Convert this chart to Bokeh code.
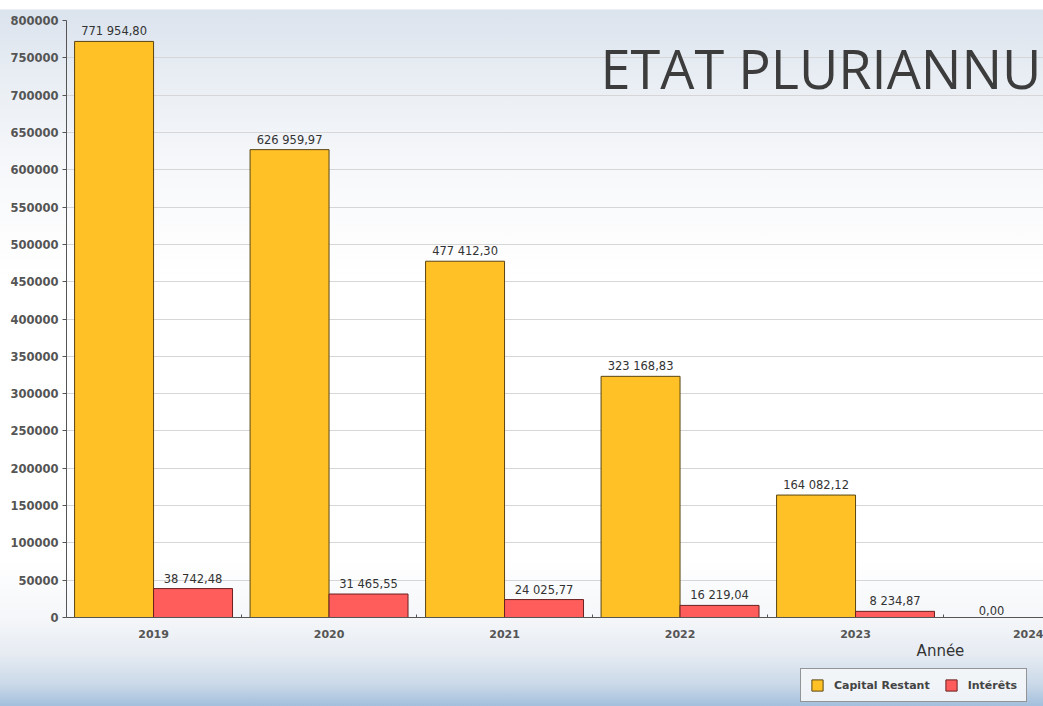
from bokeh.plotting import figure
from bokeh.layouts import column
from bokeh.models import (ColumnDataSource, FixedTicker, Legend, LegendItem, Label,
                          Range1d, BasicTickFormatter)
from bokeh.core.properties import value
from bokeh.transform import dodge
from bokeh.embed import file_html
from bokeh.resources import INLINE

# ---- data ----
years = [2019, 2020, 2021, 2022, 2023, 2024]
capital_restant = [771954.80, 626959.97, 477412.30, 323168.83, 164082.12, 0.00]
interet_years = [2019, 2020, 2021, 2022, 2023]
interets = [38742.48, 31465.55, 24025.77, 16219.04, 8234.87]
y_ticks = [0, 50000, 100000, 150000, 200000, 250000, 300000, 350000, 400000,
           450000, 500000, 550000, 600000, 650000, 700000, 750000, 800000]
title_text = "ETAT PLURIANNU"
x_label = "Année"
series_names = ["Capital Restant", "Intérêts"]
colors = ["#FFC125", "#FF5C5C"]
edge_colors = ["#5a4514", "#6a2020"]


def fr(v):
    return f"{v:,.2f}".replace(",", " ").replace(".", ",")


src_cap = ColumnDataSource(dict(year=years, val=capital_restant,
                                lab=[fr(v) for v in capital_restant]))
src_int = ColumnDataSource(dict(year=interet_years, val=interets,
                                lab=[fr(v) for v in interets]))

BAR_W = 0.45
p = figure(width=1043, height=643, output_backend="svg", toolbar_location=None,
           x_range=Range1d(2018.504, 2024.071), y_range=Range1d(0, 800000),
           min_border_left=66, min_border_right=0, min_border_top=20,
           min_border_bottom=26)
p.background_fill_color = None
p.border_fill_color = None
p.outline_line_color = None

r_cap = p.vbar(x=dodge("year", -BAR_W / 2, range=p.x_range), top="val", width=BAR_W,
               source=src_cap, fill_color=colors[0], line_color=edge_colors[0],
               line_width=1)
r_int = p.vbar(x=dodge("year", BAR_W / 2, range=p.x_range), top="val", width=BAR_W,
               source=src_int, fill_color=colors[1], line_color=edge_colors[1],
               line_width=1)

for src, off in ((src_cap, -BAR_W / 2), (src_int, BAR_W / 2)):
    p.text(x=dodge("year", off, range=p.x_range), y="val", text="lab", source=src,
           text_align="center", text_baseline="bottom", y_offset=-3,
           text_font_size=value("11.5px"), text_color="#333333",
           text_font=value("DejaVu Sans"))

# axes
p.xgrid.visible = False
p.ygrid.grid_line_color = "#d6d6d6"
p.ygrid.grid_line_width = 1

yax = p.yaxis[0]
yax.ticker = FixedTicker(ticks=y_ticks)
yax.formatter = BasicTickFormatter(use_scientific=False)
yax.bounds = (0, 800000)
yax.axis_line_color = "#555555"
yax.major_tick_line_color = "#555555"
yax.major_tick_out = 4
yax.major_tick_in = 0
yax.minor_tick_line_color = None
yax.major_label_standoff = 4
yax.major_label_text_font = "DejaVu Sans"
yax.major_label_text_font_size = "11.5px"
yax.major_label_text_font_style = "bold"
yax.major_label_text_color = "#555555"

xax = p.xaxis[0]
xax.ticker = FixedTicker(ticks=years, minor_ticks=[y + 0.5 for y in years])
xax.formatter = BasicTickFormatter(use_scientific=False)
xax.axis_line_color = "#555555"
xax.major_tick_line_color = None
xax.minor_tick_line_color = "#555555"
xax.minor_tick_in = 3
xax.minor_tick_out = 0
xax.major_label_standoff = 6
xax.major_label_text_font = "DejaVu Sans"
xax.major_label_text_font_size = "11px"
xax.major_label_text_font_style = "bold"
xax.major_label_text_color = "#555555"

# title text (cropped in the reference)
p.add_layout(Label(x=2021.547, y=737000, text=title_text, text_font="Open Sans",
                   text_font_size="54px", text_color="#3c3c3c",
                   text_baseline="alphabetic", text_align="left"))

# ---- bottom strip: axis name + legend ----
p2 = figure(width=1043, height=63, output_backend="svg", toolbar_location=None,
            x_range=p.x_range, y_range=Range1d(0, 63),
            min_border_left=66, min_border_right=0, min_border_top=0,
            min_border_bottom=0, x_axis_location=None, y_axis_location=None)
p2.background_fill_color = None
p2.border_fill_color = None
p2.outline_line_color = None
p2.grid.visible = False

d_cap = p2.vbar(x=[2000], top=[0], width=0.1, fill_color=colors[0],
                line_color=edge_colors[0])
d_int = p2.vbar(x=[2000], top=[0], width=0.1, fill_color=colors[1],
                line_color=edge_colors[1])

p2.add_layout(Label(x=2023.484, y=56, text=x_label, text_font="DejaVu Sans",
                    text_font_size="15px", text_color="#333333",
                    text_baseline="middle", text_align="center"))

legend = Legend(items=[LegendItem(label=series_names[0], renderers=[d_cap]),
                       LegendItem(label=series_names[1], renderers=[d_int])],
                location=(734, 4), orientation="horizontal")
legend.glyph_width = 14
legend.glyph_height = 14
legend.label_text_font = "DejaVu Sans"
legend.label_text_font_size = "11px"
legend.label_text_font_style = "bold"
legend.label_text_color = "#444444"
legend.label_standoff = 10
legend.spacing = 14
legend.padding = 9
legend.margin = 0
legend.border_line_color = "#333333"
legend.border_line_width = 1
legend.background_fill_color = "#f5f7fa"
legend.background_fill_alpha = 0.9
p2.add_layout(legend, "center")

layout = column(p, p2, spacing=0)
layout.styles = {"background": "linear-gradient(to bottom, #ffffff 0px, #ffffff 9px, "
                               "#dbe3ed 10px, #e9eef4 80px, #f8f9fb 180px, "
                               "#ffffff 280px, #ffffff 560px, #f4f6f9 620px, "
                               "#e6ebf2 655px, #c9d8e8 685px, #a3bfdc 706px)"}

open("out.html", "w").write(file_html(layout, INLINE))
